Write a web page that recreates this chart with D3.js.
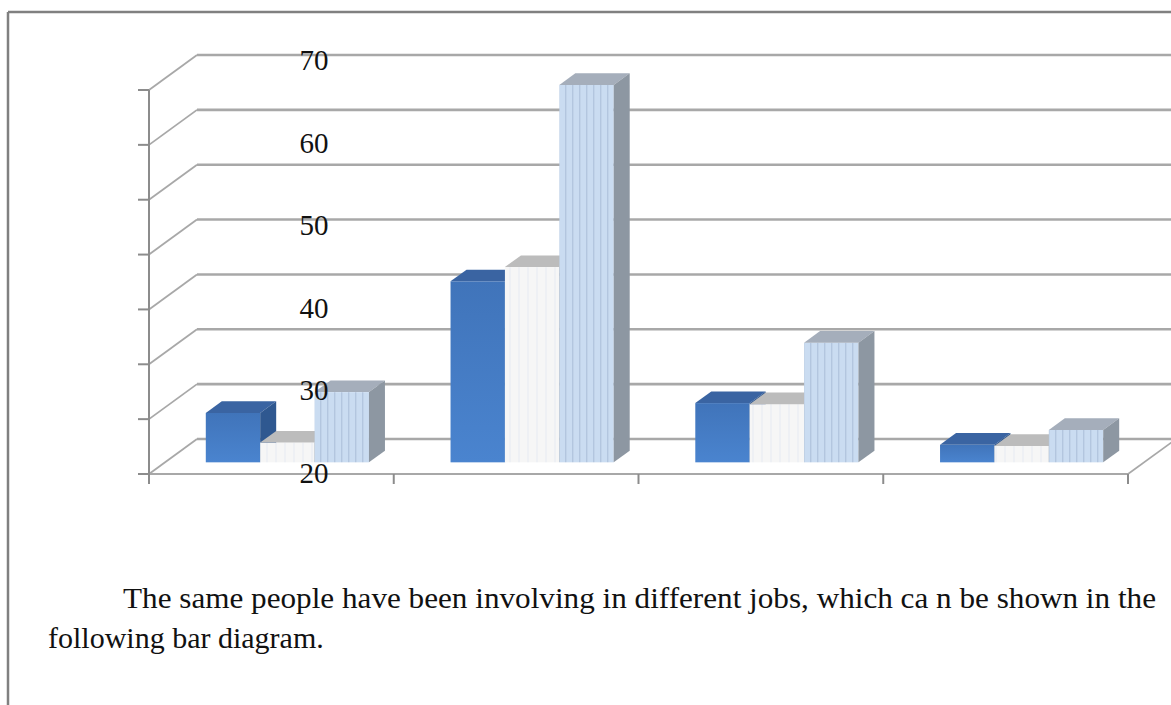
<!DOCTYPE html>
<html>
<head>
<meta charset="utf-8">
<script src="https://cdn.jsdelivr.net/npm/d3@7"></script>
<style>
  html, body { margin: 0; padding: 0; background: #ffffff; }
  svg { display: block; }
</style>
</head>
<body>
<svg id="chart" width="1171" height="705"></svg>
<script>
// ---- data ----
const categories = ["Group 1", "Group 2", "Group 3", "Group 4"];
const seriesNames = ["Series 1", "Series 2", "Series 3"];
const series1 = [9.0, 33.0, 10.8, 3.2];
const series2 = [3.6, 35.6, 10.6, 3.0];
const series3 = [12.8, 68.8, 21.8, 5.9];
const gridTicks = [0, 10, 20, 30, 40, 50, 60, 70];
const tickLabels = [20, 30, 40, 50, 60, 70];
const captionLines = [
  "The same people have been involving in different jobs, which ca n be shown in the",
  "following bar diagram."
];

const seriesValues = [series1, series2, series3];

// ---- layout ----
const svg = d3.select("#chart");
const W = 1171, H = 705;
const plot = { left: 149, right: 1128, bottom: 474, top: 90 };
const DX = 48, DY = -35;          // full floor depth offset
const D1 = 1 / 3, D2 = 2 / 3;     // bar depth slice

const x = d3.scaleBand().domain(categories).range([plot.left, plot.right]);
const bw = x.bandwidth();
const barW = bw / 4.5;            // gap width 150%
const xs = d3.scaleBand().domain(seriesNames).range([0.75 * barW, 3.75 * barW]);
const y = d3.scaleLinear().domain([0, 70]).range([plot.bottom, plot.top]);
const labelY = d3.scaleLinear().domain([20, 70]).range([483, 70]);

// ---- defs: fills ----
const defs = svg.append("defs");
const g1 = defs.append("linearGradient").attr("id", "blueFront").attr("x1", 0).attr("x2", 0).attr("y1", 0).attr("y2", 1);
g1.append("stop").attr("offset", "0%").attr("stop-color", "#4074ba");
g1.append("stop").attr("offset", "100%").attr("stop-color", "#4a84cf");

const p2 = defs.append("pattern").attr("id", "whiteFront").attr("patternUnits", "userSpaceOnUse").attr("width", 9).attr("height", 10);
p2.append("rect").attr("width", 9).attr("height", 10).attr("fill", "#f6f6f6");
p2.append("rect").attr("x", 5).attr("width", 2).attr("height", 10).attr("fill", "#eef0f4");

const p3 = defs.append("pattern").attr("id", "lightFront").attr("patternUnits", "userSpaceOnUse").attr("width", 7).attr("height", 10);
p3.append("rect").attr("width", 7).attr("height", 10).attr("fill", "#cadcf1");
p3.append("rect").attr("x", 5).attr("width", 1.4).attr("height", 10).attr("fill", "#b3c6df");

const styles = [
  { front: "url(#blueFront)", top: "#3a64a2", side: "#2f5890" },
  { front: "url(#whiteFront)", top: "#bcbcbc", side: "#a9a9a9" },
  { front: "url(#lightFront)", top: "#a5aebb", side: "#8d97a2" }
];

// ---- frame ----
svg.append("line").attr("x1", 8).attr("x2", W).attr("y1", 12).attr("y2", 12)
  .attr("stroke", "#808080").attr("stroke-width", 2.5);
svg.append("line").attr("x1", 8).attr("x2", 8).attr("y1", 12).attr("y2", H)
  .attr("stroke", "#808080").attr("stroke-width", 2.5);

// ---- walls: gridlines ----
const grid = svg.append("g").attr("stroke", "#a8a8a8").attr("fill", "none");
gridTicks.forEach(t => {
  const yf = y(t);
  // side wall
  grid.append("line").attr("x1", plot.left).attr("y1", yf).attr("x2", plot.left + DX).attr("y2", yf + DY)
    .attr("stroke-width", 1.8);
  // back wall
  grid.append("line").attr("x1", plot.left + DX).attr("y1", yf + DY).attr("x2", plot.right + DX).attr("y2", yf + DY)
    .attr("stroke-width", 2.6);
});
// floor front edge and right edge
grid.append("line").attr("x1", plot.left).attr("y1", plot.bottom).attr("x2", plot.right).attr("y2", plot.bottom)
  .attr("stroke-width", 2.2);
grid.append("line").attr("x1", plot.right).attr("y1", plot.bottom).attr("x2", plot.right + DX).attr("y2", plot.bottom + DY)
  .attr("stroke-width", 1.6);

// ---- value axis (front left edge) ----
const axisG = svg.append("g").attr("stroke", "#8c8c8c");
axisG.append("line").attr("x1", plot.left).attr("x2", plot.left).attr("y1", y(70)).attr("y2", plot.bottom + 10)
  .attr("stroke-width", 2);
gridTicks.forEach(t => {
  axisG.append("line").attr("x1", plot.left - 11).attr("x2", plot.left).attr("y1", y(t)).attr("y2", y(t))
    .attr("stroke-width", 2);
});
// category boundary ticks
const boundaries = categories.map(c => x(c)).concat([plot.right]);
boundaries.slice(1).forEach(bx => {
  axisG.append("line").attr("x1", bx).attr("x2", bx).attr("y1", plot.bottom).attr("y2", plot.bottom + 10)
    .attr("stroke-width", 2);
});

// ---- bars ----
const bars = svg.append("g");
categories.forEach((c, ci) => {
  seriesNames.forEach((s, si) => {
    const v = seriesValues[si][ci];
    const st = styles[si];
    const x0 = x(c) + xs(s);
    const w = xs.bandwidth();
    const yv = y(v), y0 = y(0);
    const fx = x0 + DX * D1, fy = DY * D1;
    const bx = x0 + DX * D2, by = DY * D2;
    const g = bars.append("g");
    g.append("rect").attr("x", fx).attr("y", yv + fy).attr("width", w).attr("height", y0 - yv)
      .attr("fill", st.front);
    g.append("polygon").attr("points", [
      [fx, yv + fy], [fx + w, yv + fy], [bx + w, yv + by], [bx, yv + by]
    ].map(p => p.join(",")).join(" ")).attr("fill", st.top);
    g.append("polygon").attr("points", [
      [fx + w, yv + fy], [bx + w, yv + by], [bx + w, y0 + by], [fx + w, y0 + fy]
    ].map(p => p.join(",")).join(" ")).attr("fill", st.side);
  });
});

// ---- tick labels ----
svg.append("g").selectAll("text").data(tickLabels).join("text")
  .attr("x", 314).attr("y", d => labelY(d))
  .attr("text-anchor", "middle")
  .attr("font-family", "'Liberation Serif', 'DejaVu Serif', serif")
  .attr("font-size", 29).attr("fill", "#111")
  .text(d => d);

// ---- caption ----
const cap = svg.append("g").attr("font-family", "'Liberation Serif', 'DejaVu Serif', serif")
  .attr("font-size", 30).attr("fill", "#111");
cap.append("text").attr("x", 123).attr("y", 608).attr("textLength", 1033).attr("lengthAdjust", "spacingAndGlyphs")
  .text(captionLines[0]);
cap.append("text").attr("x", 48).attr("y", 648)
  .text(captionLines[1]);
</script>
</body>
</html>
